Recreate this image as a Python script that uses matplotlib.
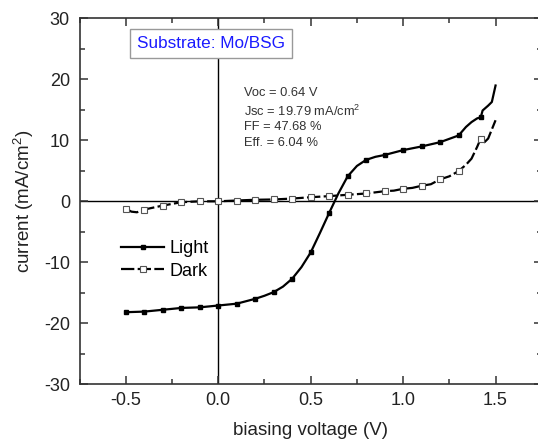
import matplotlib
matplotlib.use("Agg")
import matplotlib.pyplot as plt
from matplotlib.ticker import MultipleLocator

plt.rcParams['font.family'] = ['Liberation Sans', 'DejaVu Sans']
plt.rcParams['mathtext.fontset'] = 'custom'
plt.rcParams['mathtext.rm'] = 'Liberation Sans'
plt.rcParams['mathtext.it'] = 'Liberation Sans:italic'
plt.rcParams['axes.unicode_minus'] = False

# Light J-V curve
light_v = [-0.5, -0.4, -0.3, -0.2, -0.1, 0.0, 0.1, 0.2, 0.25, 0.3, 0.35, 0.4, 0.45,
           0.5, 0.55, 0.6, 0.65, 0.7, 0.75, 0.8, 0.85, 0.9, 1.0, 1.1, 1.2, 1.3,
           1.34, 1.37, 1.4, 1.42, 1.43, 1.46, 1.48, 1.5]
light_i = [-18.2, -18.1, -17.8, -17.5, -17.4, -17.1, -16.8, -16.0, -15.5, -14.9, -14.0, -12.7, -10.8,
           -8.4, -5.2, -1.9, 1.3, 4.1, 5.8, 6.8, 7.3, 7.6, 8.4, 9.0, 9.7, 10.8,
           12.2, 13.0, 13.6, 13.8, 14.9, 15.7, 16.3, 19.0]
light_marks = [0, 1, 2, 3, 4, 5, 6, 7, 9, 11, 13, 15, 17, 19, 21, 22, 23, 24, 25, 29]

# Dark J-V curve
dark_v = [-0.5, -0.47, -0.44, -0.4, -0.3, -0.2, -0.1, 0.0, 0.1, 0.2, 0.3, 0.4, 0.5,
          0.6, 0.7, 0.8, 0.9, 0.95, 1.0, 1.05, 1.1, 1.15, 1.2, 1.25, 1.3, 1.34,
          1.37, 1.4, 1.42, 1.44, 1.46, 1.48, 1.5]
dark_i = [-1.2, -1.7, -1.8, -1.35, -0.7, -0.15, 0.0, 0.0, 0.13, 0.25, 0.3, 0.45, 0.67,
          0.85, 1.07, 1.28, 1.66, 1.75, 2.05, 2.2, 2.55, 2.8, 3.6, 4.1, 4.95, 6.0,
          7.0, 8.9, 10.3, 9.7, 10.3, 11.8, 13.3]
dark_marks = [0, 3, 4, 5, 6, 7, 8, 9, 10, 11, 12, 13, 14, 15, 16, 18, 20, 22, 24, 28]

params = ["Voc = 0.64 V", "Jsc = 19.79 mA/cm$^2$", "FF = 47.68 %", "Eff. = 6.04 %"]
params_y = [17.8, 14.8, 12.2, 9.6]

fig = plt.figure(figsize=(5.38, 4.4), dpi=100)
ax = fig.add_axes([0.148, 0.127, 0.859, 0.831])

ax.axhline(0, color='black', lw=1.0, zorder=1)
ax.axvline(0, color='black', lw=1.0, zorder=1)

ax.plot(light_v, light_i, '-', color='black', lw=1.6, marker='s', ms=3.5,
        markevery=light_marks, mfc='black', mec='black', label='Light', zorder=3)
ax.plot(dark_v, dark_i, color='black', lw=1.6, ls=(0, (6, 1.5)), marker='s', ms=3.8,
        markevery=dark_marks, mfc='white', mec='#555555', mew=0.8, label='Dark', zorder=4)

ax.set_xlim(-0.75, 1.75)
ax.set_ylim(-30, 30)
ax.xaxis.set_major_locator(MultipleLocator(0.5))
ax.xaxis.set_minor_locator(MultipleLocator(0.25))
ax.yaxis.set_major_locator(MultipleLocator(10))
ax.yaxis.set_minor_locator(MultipleLocator(5))
ax.tick_params(which='both', direction='in', top=True, right=True, colors='#333333',
               labelcolor='#222222', labelsize=13, width=1.1)
ax.tick_params(which='major', length=6)
ax.tick_params(which='minor', length=3.5)
ax.tick_params(axis='y', which='major', pad=7)
ax.tick_params(axis='x', which='major', pad=6)
for s in ax.spines.values():
    s.set_color('#333333')
    s.set_linewidth(1.2)

ax.set_xlabel('biasing voltage (V)', fontsize=13.5, color='#222222', labelpad=9)
ax.set_ylabel('current (mA/cm$^2$)', fontsize=13.5, color='#222222', labelpad=6)

ax.text(-0.04, 25.9, 'Substrate: Mo/BSG', color='#1a1aff', fontsize=12.3, ha='center', va='center',
        bbox=dict(boxstyle='square,pad=0.4', fc='white', ec='#999999', lw=1))
for t, y in zip(params, params_y):
    ax.text(0.14, y, t, fontsize=9.3, color='#333333', ha='left', va='center')

ax.legend(loc='center left', bbox_to_anchor=(0.07, 0.34), frameon=False, fontsize=13,
          handlelength=2.4, handletextpad=0.3, labelspacing=0.3, borderpad=0)

fig.savefig('out.png', dpi=100)
